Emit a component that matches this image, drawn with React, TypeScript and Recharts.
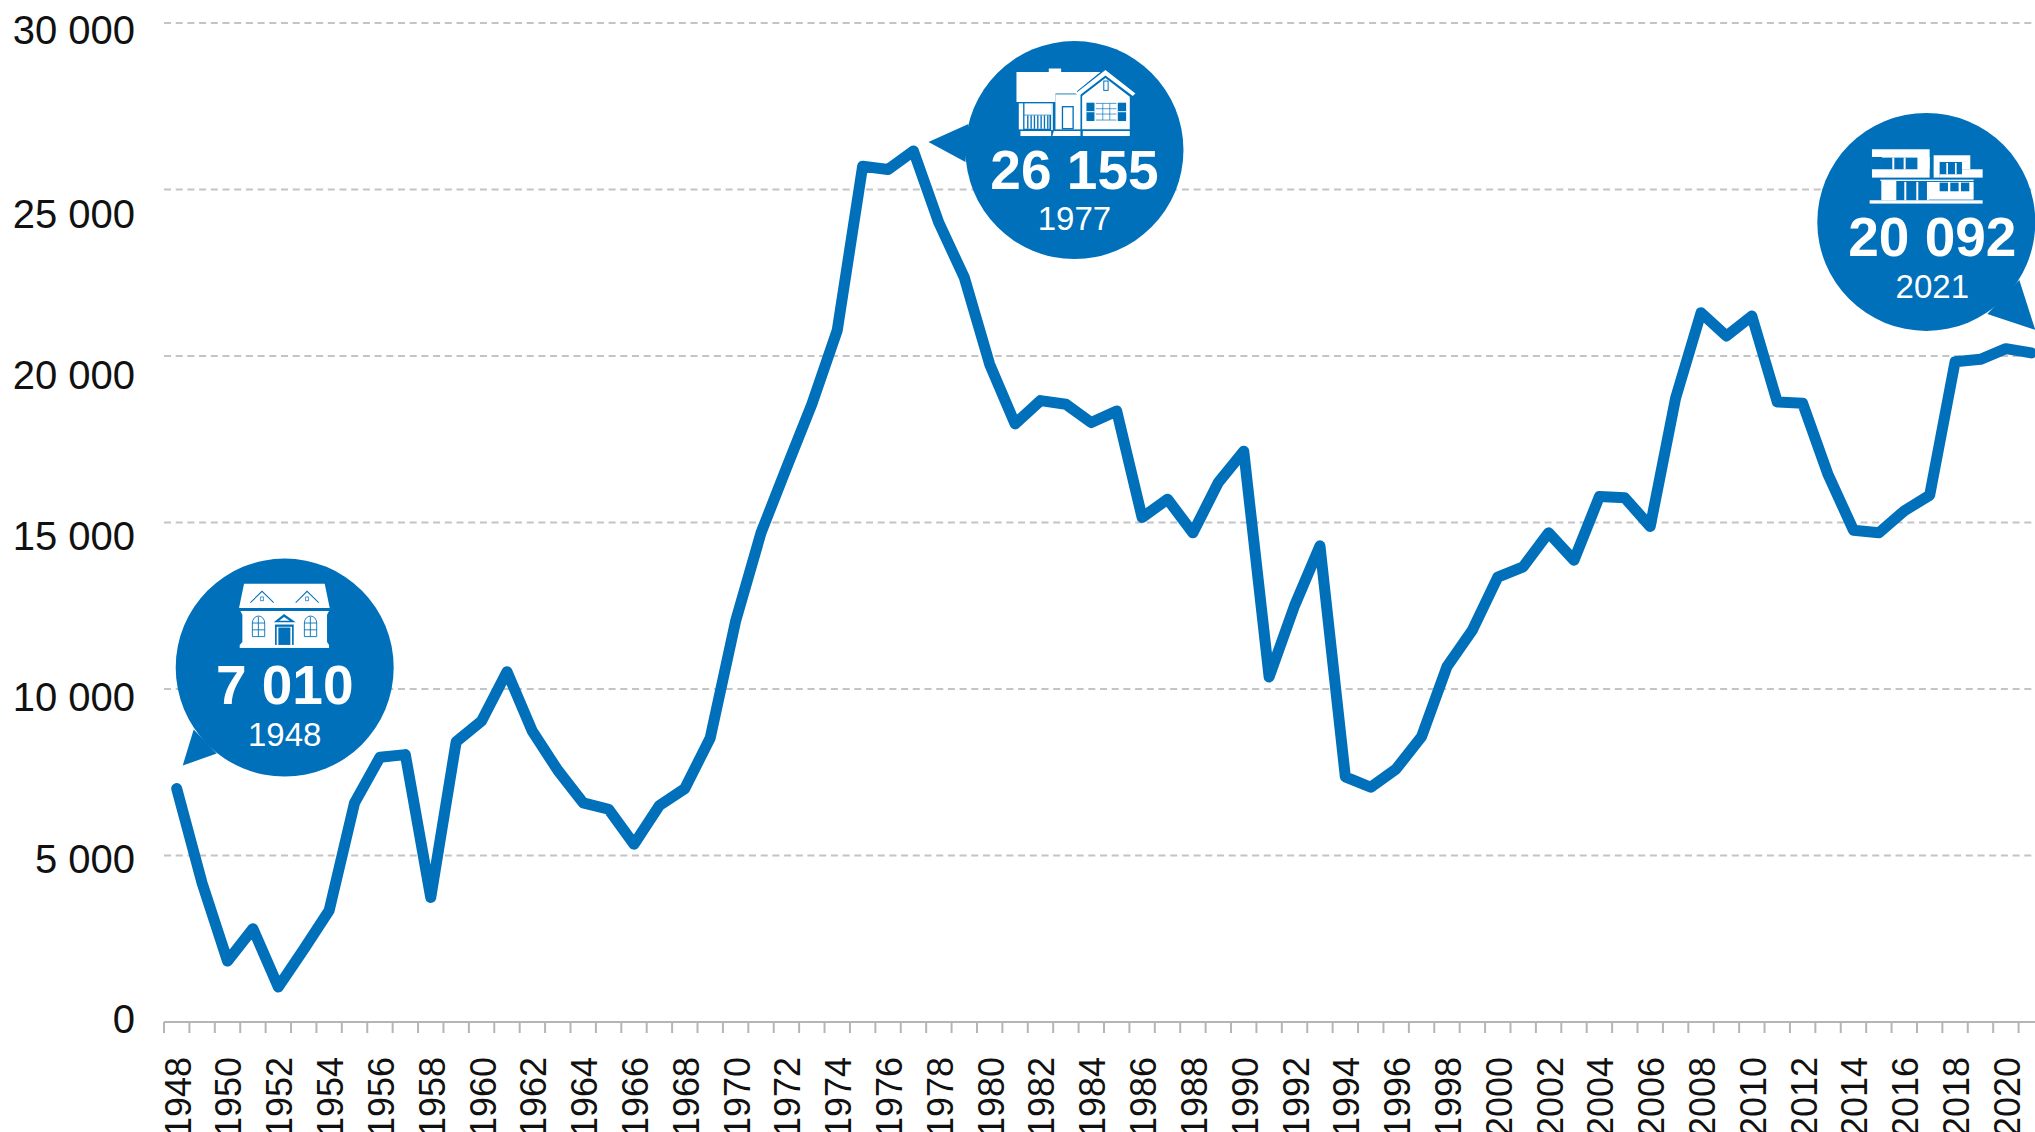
import { LineChart, Line, XAxis, YAxis, CartesianGrid, ReferenceDot } from "recharts";

const years = [
  1948, 1949, 1950, 1951, 1952, 1953, 1954, 1955, 1956, 1957, 1958, 1959, 1960, 1961, 1962, 1963, 1964, 1965,
  1966, 1967, 1968, 1969, 1970, 1971, 1972, 1973, 1974, 1975, 1976, 1977, 1978, 1979, 1980, 1981, 1982, 1983,
  1984, 1985, 1986, 1987, 1988, 1989, 1990, 1991, 1992, 1993, 1994, 1995, 1996, 1997, 1998, 1999, 2000, 2001,
  2002, 2003, 2004, 2005, 2006, 2007, 2008, 2009, 2010, 2011, 2012, 2013, 2014, 2015, 2016, 2017, 2018, 2019,
  2020, 2021,
];

const values = [
  7010, 4170, 1830, 2800, 1050, 2180, 3350, 6580, 7950, 8030, 3740, 8415, 9040, 10520, 8730, 7560, 6580, 6390,
  5340, 6500, 7010, 8530, 12040, 14690, 16640, 18550, 20770, 25700, 25600, 26155, 24000, 22360, 19750, 17960, 18660, 18550,
  18000, 18350, 15150, 15700, 14690, 16200, 17140, 10360, 12500, 14300, 7360, 7050, 7600, 8570, 10670, 11770, 13360, 13670,
  14690, 13870, 15780, 15740, 14880, 18740, 21300, 20600, 21200, 18620, 18580, 16440, 14770, 14690, 15350, 15820, 19830, 19900,
  20220, 20092,
];

const yTicks = [0, 5000, 10000, 15000, 20000, 25000, 30000];

// the labels in the source do not sit on their gridlines
const yLabelShift: Record<number, number> = { 0: -3, 5000: 3, 10000: 8, 15000: 13, 20000: 19, 25000: 24.5, 30000: 7 };

const data = years.map((year, i) => ({ year, value: values[i] }));

const BLUE = "#0070BB";
const FONT = "'Liberation Sans', Arial, sans-serif";
const BAND = 25.4;

const fmt = (v: number) => String(v).replace(/\B(?=(\d{3})+$)/g, " ");

const YTick = ({ x, y, payload }: any) => (
  <text x={x} y={y + yLabelShift[payload.value]} dy="0.36em" textAnchor="end" fontFamily={FONT} fontSize={40} fill="#111">
    {fmt(payload.value)}
  </text>
);

const XTick = ({ x, payload }: any) => (
  <g>
    <line x1={x - BAND / 2} x2={x - BAND / 2} y1={1022} y2={1033} stroke="#b5b5b5" strokeWidth={2} />
    {payload.value % 2 === 0 && (
      <text transform={`translate(${x + 1},1057) rotate(-90)`} dy="0.36em" textAnchor="end" fontFamily={FONT} fontSize={36} fill="#111">
        {payload.value}
      </text>
    )}
  </g>
);

const HouseOld = () => (
  <g transform="scale(0.3333,0.3775) translate(-855,-340)">
    <polygon points="733,118 975,118 990,182 718,182" fill="#fff" />
    <polyline points="752,168 787,138 822,168" fill="none" stroke={BLUE} strokeWidth={3} />
    <polyline points="888,168 922,138 957,168" fill="none" stroke={BLUE} strokeWidth={3} />
    <rect x={783} y={153} width={8} height={10} fill="none" stroke={BLUE} strokeWidth={2} />
    <rect x={918} y={153} width={8} height={10} fill="none" stroke={BLUE} strokeWidth={2} />
    <polygon points="722,190 988,190 982,200 982,272 988,280 720,280 728,272 728,200" fill="#fff" />
    <rect x={720} y={280} width={268} height={8} fill="#fff" />
    {[758, 914].map((wx) => (
      <g key={wx} fill="none" stroke={BLUE} strokeWidth={2.5}>
        <path d={`M${wx},258 V222 a18,18 0 0 1 37,0 V258 Z`} />
        <path d={`M${wx + 18},205 V258 M${wx},222 H${wx + 37} M${wx},240 H${wx + 37}`} />
      </g>
    ))}
    <polygon points="822,220 853,198 888,220" fill={BLUE} />
    <polygon points="838,216 853,206 870,216" fill="#fff" />
    <rect x={826} y={226} width={56} height={54} fill={BLUE} />
    <rect x={831} y={232} width={46} height={48} fill="#fff" />
    <rect x={836} y={234} width={36} height={46} fill={BLUE} />
  </g>
);

const HouseRanch = () => (
  <g transform="scale(0.3333) translate(-522,-392)">
    <polygon points="348,158 445,158 445,147 482,147 482,158 600,158 530,215 530,222 465,222 465,248 348,248" fill="#fff" />
    <rect x={355} y={252} width={13} height={78} fill="#fff" />
    <rect x={372} y={252} width={80} height={34} fill="#fff" />
    <rect x={372} y={288} width={75} height={40} fill="#fff" />
    {[380, 390, 400, 410, 420, 430, 440].map((lx) => (
      <rect key={lx} x={lx} y={288} width={4} height={40} fill={BLUE} />
    ))}
    <rect x={452} y={252} width={5} height={80} fill="#fff" />
    <rect x={360} y={335} width={92} height={15} fill="#fff" />
    <rect x={465} y={225} width={75} height={105} fill="#fff" />
    <rect x={486} y={262} width={32} height={66} fill="none" stroke={BLUE} strokeWidth={4} />
    <polygon points="525,222 615,152 705,222 697,230 615,168 535,230" fill="#fff" />
    <polygon points="545,230 615,176 688,232 688,330 545,330" fill="#fff" />
    <rect x={610} y={185} width={13} height={28} fill="none" stroke={BLUE} strokeWidth={3} />
    <rect x={558} y={250} width={24} height={55} fill={BLUE} />
    <rect x={652} y={250} width={25} height={55} fill={BLUE} />
    <path d="M586,252 H648 M586,268 H648 M586,284 H648 M586,302 H648 M607,252 V302 M628,252 V302" fill="none" stroke={BLUE} strokeWidth={2} />
    <path d="M558,277 H582 M652,277 H677" stroke="#fff" strokeWidth={3} />
    <polygon points="460,335 540,335 540,350 456,350" fill="#fff" />
    <rect x={547} y={335} width={141} height={15} fill="#fff" />
  </g>
);

const HouseModern = () => (
  <g transform="scale(0.3333) translate(-438,-395)">
    <rect x={275} y={177} width={173} height={85} fill="#fff" />
    <rect x={305} y={202} width={107} height={35} fill={BLUE} />
    <rect x={336} y={202} width={6} height={35} fill="#fff" />
    <rect x={370} y={202} width={6} height={35} fill="#fff" />
    <rect x={275} y={200} width={30} height={37} fill={BLUE} />
    <rect x={412} y={200} width={36} height={37} fill="#fff" />
    <rect x={460} y={195} width={110} height={20} fill="#fff" />
    <rect x={460} y={215} width={18} height={47} fill="#fff" />
    <rect x={545} y={215} width={25} height={22} fill="#fff" />
    <rect x={545} y={237} width={62} height={25} fill="#fff" />
    <rect x={478} y={252} width={67} height={10} fill="#fff" />
    <rect x={498} y={218} width={5} height={34} fill="#fff" />
    <rect x={524} y={218} width={5} height={34} fill="#fff" />
    <rect x={300} y={268} width={280} height={4} fill="#fff" />
    <rect x={303} y={272} width={45} height={58} fill="#fff" />
    {[372, 408, 440].map((lx) => (
      <rect key={lx} x={lx} y={275} width={6} height={55} fill="#fff" />
    ))}
    <rect x={446} y={275} width={134} height={53} fill="#fff" />
    {[478, 510, 542].map((lx) => (
      <rect key={lx} x={lx} y={277} width={25} height={26} fill={BLUE} />
    ))}
    <rect x={268} y={330} width={339} height={10} fill="#fff" />
  </g>
);

// dx, dy: offset of the bubble centre from its data point; tail: tip and base, relative to the centre
const Bubble = ({ cx, cy, dx, dy, tail, big, small, valueY, yearY, textX = 0, Icon }: any) => (
  <g transform={`translate(${cx + dx},${cy + dy})`} fontFamily={FONT} textAnchor="middle">
    <circle r={109} fill={BLUE} />
    <polygon points={tail} fill={BLUE} />
    <Icon />
    <text x={textX} y={valueY} fontSize={55} fontWeight="bold" fill="#fff">
      {big}
    </text>
    <text x={textX} y={yearY} fontSize={33} fill="#fff">
      {small}
    </text>
  </g>
);

const App = () => (
  <div style={{ position: "fixed", left: 0, top: 0, width: 2035, height: 1132, overflow: "hidden", background: "#fff" }}>
    <LineChart width={2044} height={1132} data={data} margin={{ top: 23, right: 0, bottom: 0, left: 0 }}>
      <CartesianGrid vertical={false} stroke="#c4c4c4" strokeWidth={2} strokeDasharray="7 4.7" />
      <XAxis
        dataKey="year"
        type="number"
        domain={[1947.5, 2021.5]}
        ticks={years}
        interval={0}
        height={110}
        tickLine={false}
        axisLine={{ stroke: "#b5b5b5", strokeWidth: 2 }}
        tick={XTick}
      />
      <YAxis
        type="number"
        domain={[0, 30000]}
        ticks={yTicks}
        interval={0}
        width={164}
        tickLine={false}
        axisLine={false}
        tickSize={0}
        tickMargin={29}
        tick={YTick}
      />
      <Line
        dataKey="value"
        stroke={BLUE}
        strokeWidth={11}
        strokeLinejoin="round"
        strokeLinecap="round"
        dot={false}
        activeDot={false}
        isAnimationActive={false}
      />
      <ReferenceDot
        x={1948}
        y={7010}
        ifOverflow="visible"
        shape={(p: any) => (
          <Bubble {...p} dx={108} dy={-121} tail="-102,98 -91,62 -68,86" big="7 010" small="1948" valueY={36} yearY={78} Icon={HouseOld} />
        )}
      />
      <ReferenceDot
        x={1977}
        y={26155}
        ifOverflow="visible"
        shape={(p: any) => (
          <Bubble {...p} dx={161} dy={-1} tail="-146,-8 -106,-26 -109,12" big="26 155" small="1977" valueY={39} yearY={80} Icon={HouseRanch} />
        )}
      />
      <ReferenceDot
        x={2021}
        y={20092}
        ifOverflow="visible"
        shape={(p: any) => (
          <Bubble {...p} dx={-105} dy={-131} tail="109,108 93,58 61,92" big="20 092" small="2021" valueY={34} yearY={76} textX={6} Icon={HouseModern} />
        )}
      />
    </LineChart>
  </div>
);

export default App;
